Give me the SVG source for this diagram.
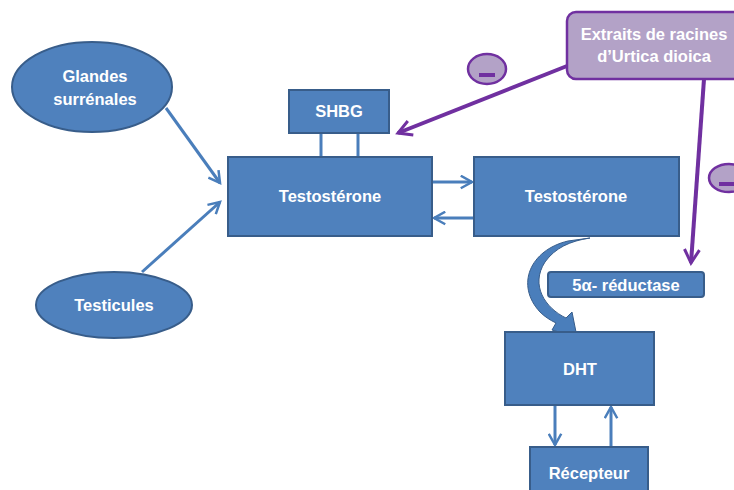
<svg xmlns="http://www.w3.org/2000/svg" width="734" height="490" viewBox="0 0 734 490">
<defs>
<style>
.n{fill:#4f81bd;stroke:#385d8a;stroke-width:2}
.p{fill:#b3a2c7;stroke:#7030a0;stroke-width:2.5}
.t{font-family:"Liberation Sans",Arial,sans-serif;font-weight:bold;font-size:16.5px;fill:#fff;text-anchor:middle}
.c{stroke:#4a7ebb;stroke-width:3;fill:none}
.v{stroke:#7030a0;stroke-width:4;fill:none}
</style>
<marker id="ab" viewBox="0 0 12 12" refX="10" refY="6" markerWidth="5" markerHeight="5" orient="auto" markerUnits="strokeWidth">
<path d="M1,1 L10,6 L1,11" fill="none" stroke="#4a7ebb" stroke-width="2"/>
</marker>
<marker id="ap" viewBox="0 0 12 12" refX="10" refY="6" markerWidth="4.5" markerHeight="4.5" orient="auto" markerUnits="strokeWidth">
<path d="M1,1 L10,6 L1,11" fill="none" stroke="#7030a0" stroke-width="2"/>
</marker>
</defs>
<rect width="734" height="490" fill="#fff"/>
<g id="connectors">
<line class="c" x1="166" y1="108" x2="220" y2="183" marker-end="url(#ab)"/>
<line class="c" x1="142" y1="272" x2="220" y2="202" marker-end="url(#ab)"/>
<line class="c" x1="321" y1="133" x2="321" y2="157"/>
<line class="c" x1="358" y1="133" x2="358" y2="157"/>
<line class="c" x1="432" y1="182" x2="472" y2="182" marker-end="url(#ab)"/>
<line class="c" x1="474" y1="218" x2="434" y2="218" marker-end="url(#ab)"/>
<line class="c" x1="555" y1="405" x2="555" y2="445" marker-end="url(#ab)"/>
<line class="c" x1="611" y1="447" x2="611" y2="407" marker-end="url(#ab)"/>
<line class="v" x1="567" y1="66" x2="398" y2="133" marker-end="url(#ap)"/>
<line class="v" x1="704" y1="79" x2="691" y2="263" marker-end="url(#ap)"/>
<path d="M590,238 L568,241 C530,250 515,285 540,312 C545,317 550,320 556,323 L552,330 L577,337 L572,312 L566,318 C545,308 530,285 545,262 C555,248 570,241 590,238 Z" fill="#4a7ebb" stroke="#385d8a" stroke-width="1"/>
</g>
<g id="glandes"><ellipse class="n" cx="92" cy="87" rx="80" ry="45"/><text class="t" x="95" y="82">Glandes</text><text class="t" x="95" y="105">surrénales</text></g>
<g id="testicules"><ellipse class="n" cx="114" cy="305" rx="78" ry="33"/><text class="t" x="114" y="311">Testicules</text></g>
<g id="shbg"><rect class="n" x="289" y="90" width="100" height="43"/><text class="t" x="339" y="117">SHBG</text></g>
<g id="testo1"><rect class="n" x="228" y="157" width="204" height="79"/><text class="t" x="330" y="202">Testostérone</text></g>
<g id="testo2"><rect class="n" x="474" y="157" width="205" height="79"/><text class="t" x="576" y="202">Testostérone</text></g>
<g id="reductase"><rect class="n" x="548" y="272" width="156" height="25" rx="3"/><text class="t" x="626" y="291">5α- réductase</text></g>
<g id="dht"><rect class="n" x="505" y="332" width="149" height="73"/><text class="t" x="580" y="375">DHT</text></g>
<g id="recepteur"><rect class="n" x="530" y="447" width="118" height="50"/><text class="t" x="589" y="479">Récepteur</text></g>
<g id="extraits"><rect class="p" x="567" y="12" width="175" height="67" rx="9"/><text class="t" x="654" y="40">Extraits de racines</text><text class="t" x="654" y="62">d’Urtica dioica</text></g>
<g id="minus1"><ellipse class="p" cx="487" cy="69" rx="19" ry="15"/><line x1="479" y1="75" x2="495" y2="75" stroke="#7030a0" stroke-width="4"/></g>
<g id="minus2"><ellipse class="p" cx="729" cy="178" rx="20" ry="14"/><line x1="719" y1="184" x2="734" y2="184" stroke="#7030a0" stroke-width="4"/></g>
</svg>
